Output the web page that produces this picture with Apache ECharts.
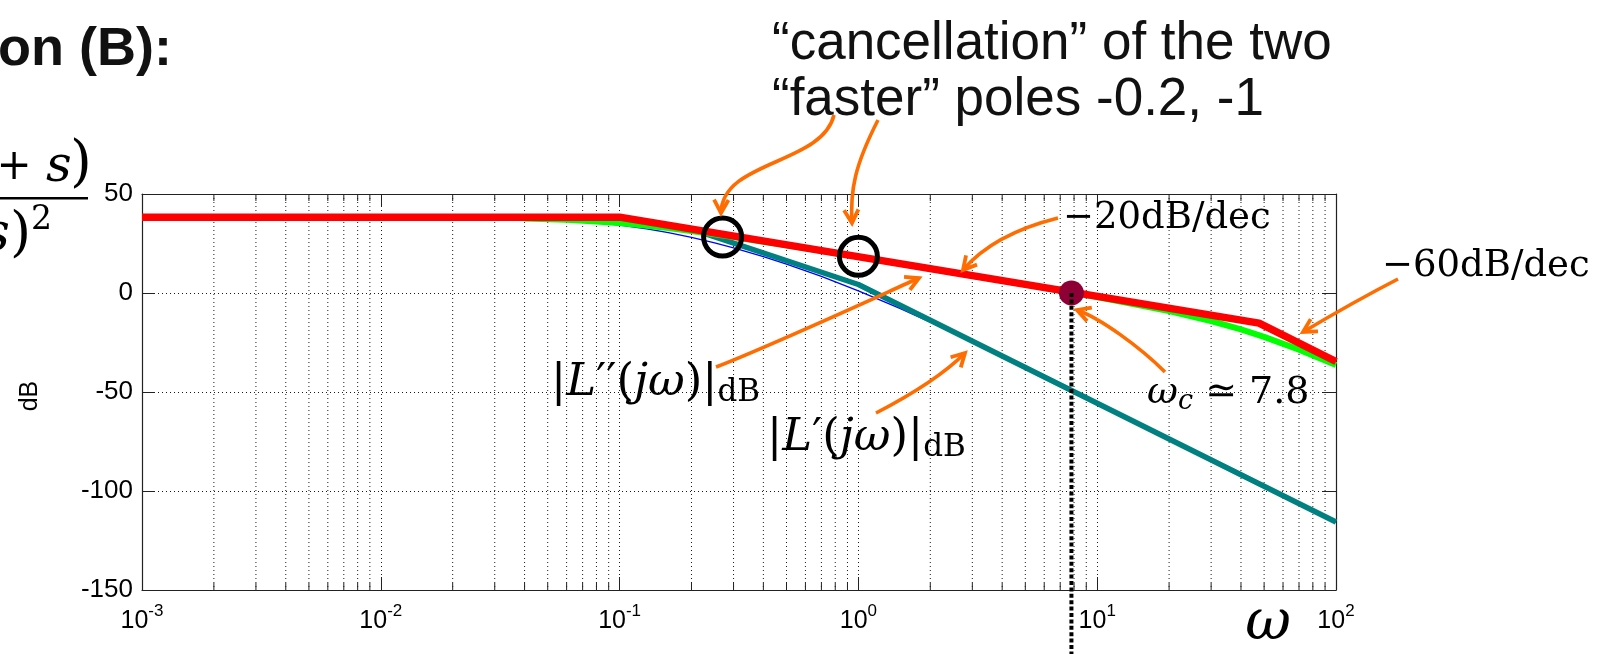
<!DOCTYPE html>
<html>
<head>
<meta charset="utf-8">
<script src="https://cdn.jsdelivr.net/npm/echarts@6/dist/echarts.min.js"></script>
<style>
  html, body { margin: 0; padding: 0; background: #fff; }
  #chart { width: 1616px; height: 654px; }
</style>
</head>
<body>
<div id="chart"></div>
<script>
// Bode magnitude: frequency ω (rad/s) and magnitude in dB

// asymptotic |L''(jω)|dB
const redOmega = [0.001, 0.1, 47.6, 100];
const redDb    = [38.3, 38.3, -15.2, -34.6];

// exact |L''(jω)|dB
const greenOmega = [0.04, 0.06, 0.08, 0.1, 0.13, 0.16, 0.2, 0.3, 0.5, 1, 2, 5, 10, 20, 30, 40, 50, 70, 100];
const greenDb    = [37.66, 36.97, 36.15, 35.29, 34.0, 32.79, 31.31, 28.3, 24.15, 18.26, 12.25, 4.22, -2.08, -9.13, -14.14, -18.38, -22.14, -28.6, -36.37];

// asymptotic |L'(jω)|dB
const tealOmega = [0.001, 0.1, 0.2, 1, 100];
const tealDb    = [38.3, 38.3, 32.3, 4.3, -115.7];

// exact |L'(jω)|dB
const blueOmega = [0.001, 0.01, 0.03, 0.05, 0.07, 0.1, 0.13, 0.16, 0.2, 0.25, 0.3, 0.4, 0.5, 0.7, 1, 1.5, 2, 3, 5, 10, 20, 50, 100];
const blueDb    = [38.3, 38.25, 37.82, 37.06, 36.05, 34.28, 32.4, 30.53, 28.13, 25.35, 22.81, 18.36, 14.58, 8.36, 1.1, -7.94, -14.76, -24.79, -37.8, -55.72, -73.75, -97.62, -115.68];

// circled points where the poles -0.2, -1 get cancelled
const circleOmega = [0.27, 1.0];
const circleDb    = [28.3, 18.5];

// crossover frequency
const crossOmega = [7.8];
const crossDb    = [0];

// axis ticks
const yTicks = [50, 0, -50, -100, -150];
const xTickExponents = ['-3', '-2', '-1', '0', '1', '2'];
const minorMultipliers = [2, 3, 4, 5, 6, 7, 8, 9];

const pair = (xs, ys) => xs.map((x, i) => [x, ys[i]]);

const SANS = '"Liberation Sans", Arial, sans-serif';
const SERIF = '"DejaVu Serif", serif';
const axisColor = '#222';
const dotLine = { color: '#1a1a1a', width: 1, type: [1, 3] };
const orange = '#ff6c00';

const minorValues = [];
for (let e = -3; e < 2; e++) {
  for (const m of minorMultipliers) minorValues.push([m * Math.pow(10, e), 0]);
}

const chart = echarts.init(document.getElementById('chart'), null, { renderer: 'canvas' });

const logAxisBase = {
  type: 'log', logBase: 10, min: 0.001, max: 100, splitNumber: 5,
  axisLine: { show: true, onZero: false, lineStyle: { color: axisColor, width: 1.2 } },
  axisTick: { show: true, inside: true, length: 13, lineStyle: { color: axisColor, width: 1 } },
  minorTick: { show: false }, minorSplitLine: { show: false }
};
const valAxisBase = {
  type: 'value', min: yTicks[yTicks.length - 1], max: yTicks[0], interval: 50,
  axisLine: { show: true, onZero: false, lineStyle: { color: axisColor, width: 1.2 } },
  axisTick: { show: true, inside: true, length: 13, lineStyle: { color: axisColor, width: 1 } }
};

const option = {
  animation: false,
  grid: { left: 142, top: 194, width: 1194, height: 396, containLabel: false },
  xAxis: [
    Object.assign({}, logAxisBase, {
      position: 'bottom',
      splitLine: { show: true, lineStyle: dotLine },
      axisLabel: {
        margin: 13,
        formatter: (v) => {
          const e = Math.round(Math.log10(v));
          return '{b|10}{s|' + xTickExponents[e + 3] + '}';
        },
        rich: {
          b: { fontFamily: SANS, fontSize: 25, color: '#000', lineHeight: 36 },
          s: { fontFamily: SANS, fontSize: 17, color: '#000', lineHeight: 12, verticalAlign: 'top' }
        }
      }
    }),
    Object.assign({}, logAxisBase, {
      position: 'top',
      splitLine: { show: false },
      axisLabel: { show: false }
    })
  ],
  yAxis: [
    Object.assign({}, valAxisBase, {
      position: 'left',
      splitLine: { show: true, lineStyle: dotLine },
      axisLabel: { margin: 9, fontFamily: SANS, fontSize: 26, color: '#000' }
    }),
    Object.assign({}, valAxisBase, {
      position: 'right',
      splitLine: { show: false },
      axisLabel: { show: false }
    })
  ],
  series: [
    {
      // minor decade grid lines and ticks
      type: 'custom', z: 1, silent: true,
      data: minorValues,
      encode: { x: 0, y: 1 },
      renderItem: (params, api) => {
        const v = api.value(0);
        const top = api.coord([v, yTicks[0]]);
        const bot = api.coord([v, yTicks[yTicks.length - 1]]);
        return {
          type: 'group',
          children: [
            { type: 'line', shape: { x1: top[0], y1: top[1], x2: bot[0], y2: bot[1] }, style: { stroke: '#1a1a1a', lineWidth: 1, lineDash: [1, 3] } },
            { type: 'line', shape: { x1: bot[0], y1: bot[1], x2: bot[0], y2: bot[1] - 7 }, style: { stroke: axisColor, lineWidth: 1 } },
            { type: 'line', shape: { x1: top[0], y1: top[1], x2: top[0], y2: top[1] + 7 }, style: { stroke: axisColor, lineWidth: 1 } }
          ]
        };
      }
    },
    { name: "|L'| exact", type: 'line', z: 3, data: pair(blueOmega, blueDb), showSymbol: false, symbol: 'none', lineStyle: { color: '#0000ff', width: 1.3 } },
    { name: "|L'| asymptotic", type: 'line', z: 4, data: pair(tealOmega, tealDb), showSymbol: false, symbol: 'none', lineStyle: { color: '#008080', width: 5.5 } },
    { name: "|L''| exact", type: 'line', z: 5, data: pair(greenOmega, greenDb), showSymbol: false, symbol: 'none', lineStyle: { color: '#00ff00', width: 6 } },
    { name: "|L''| asymptotic", type: 'line', z: 6, data: pair(redOmega, redDb), showSymbol: false, symbol: 'none', lineStyle: { color: '#ff0000', width: 7.5 } },
    {
      name: 'cancellation', type: 'scatter', z: 8, data: pair(circleOmega, circleDb),
      symbol: 'circle', symbolSize: 38,
      itemStyle: { color: 'rgba(0,0,0,0)', borderColor: '#000', borderWidth: 5, opacity: 1 }
    },
    {
      name: 'crossover', type: 'scatter', z: 9, data: pair(crossOmega, crossDb),
      symbol: 'circle', symbolSize: 25, itemStyle: { color: '#8e0035', opacity: 1 }
    }
  ]
};
chart.setOption(option);

// annotation arrows (cubic curves with open arrowheads)
function arrow(p0, p1, p2, p3) {
  const dx = p3[0] - p2[0], dy = p3[1] - p2[1];
  const L = Math.hypot(dx, dy), ux = dx / L, uy = dy / L;
  const hl = 15, ha = 0.5, c = Math.cos(ha), s = Math.sin(ha);
  const b1 = [p3[0] - hl * (ux * c - uy * s), p3[1] - hl * (uy * c + ux * s)];
  const b2 = [p3[0] - hl * (ux * c + uy * s), p3[1] - hl * (uy * c - ux * s)];
  return [
    { type: 'bezierCurve', z: 50, shape: { x1: p0[0], y1: p0[1], cpx1: p1[0], cpy1: p1[1], cpx2: p2[0], cpy2: p2[1], x2: p3[0], y2: p3[1] },
      style: { stroke: orange, lineWidth: 3.6, fill: null } },
    { type: 'polyline', z: 50, shape: { points: [b1, p3, b2] },
      style: { stroke: orange, lineWidth: 3.8, fill: null, lineJoin: 'miter' } }
  ];
}

const mathRich = (size, subSize, lh, subLh) => ({
  r: { fontFamily: SERIF, fontSize: size, lineHeight: lh, color: '#000' },
  i: { fontFamily: SERIF, fontStyle: 'italic', fontSize: size, lineHeight: lh, color: '#000' },
  sub: { fontFamily: SERIF, fontSize: subSize, lineHeight: subLh, verticalAlign: 'bottom', color: '#000' },
  isub: { fontFamily: SERIF, fontStyle: 'italic', fontSize: subSize, lineHeight: subLh, verticalAlign: 'bottom', color: '#000' }
});

const cross = chart.convertToPixel({ xAxisIndex: 0, yAxisIndex: 0 }, [crossOmega[0], crossDb[0]]);

const graphics = [
  // dotted drop line from the crossover point
  { type: 'line', z: 60, shape: { x1: cross[0], y1: cross[1], x2: cross[0], y2: 654 },
    style: { stroke: '#000', lineWidth: 4, lineDash: [4, 2.4] } },

  // headings
  { type: 'text', z: 40, x: 172, y: 50, style: { text: 'on (B):', fontFamily: SANS, fontWeight: 'bold', fontSize: 54, fill: '#111', align: 'right', verticalAlign: 'middle' } },
  { type: 'text', z: 40, x: 772, y: 44, style: { text: '\u201Ccancellation\u201D of the two', fontFamily: SANS, fontSize: 53, fill: '#111', align: 'left', verticalAlign: 'middle' } },
  { type: 'text', z: 40, x: 772, y: 100, style: { text: '\u201Cfaster\u201D poles -0.2, -1', fontFamily: SANS, fontSize: 53, fill: '#111', align: 'left', verticalAlign: 'middle' } },

  // transfer function fragment: numerator "+ s)"
  { type: 'text', z: 40, x: 14, y: 168, style: { text: '+', fontFamily: SERIF, fontSize: 42, fill: '#000', align: 'center', verticalAlign: 'middle' } },
  { type: 'text', z: 40, x: 46, y: 168, style: { text: 's', fontFamily: SERIF, fontStyle: 'italic', fontSize: 50, fill: '#000', align: 'left', verticalAlign: 'middle' } },
  { type: 'text', z: 40, x: 70, y: 165, style: { text: ')', fontFamily: SERIF, fontSize: 56, fill: '#000', align: 'left', verticalAlign: 'middle' } },
  { type: 'rect', z: 40, shape: { x: 0, y: 197, width: 88, height: 2.4 }, style: { fill: '#000' } },
  // denominator "s)²"
  { type: 'text', z: 40, x: 52, y: 204, style: { text: '{i|s}{r|)}{sup|2}', rich: {
      r: { fontFamily: SERIF, fontSize: 54, lineHeight: 64, color: '#000' },
      i: { fontFamily: SERIF, fontStyle: 'italic', fontSize: 54, lineHeight: 64, color: '#000' },
      sup: { fontFamily: SERIF, fontSize: 33, lineHeight: 38, verticalAlign: 'top', color: '#000' } },
      align: 'right', verticalAlign: 'top' } },

  // axis names
  { type: 'text', z: 40, x: 30, y: 396, rotation: Math.PI / 2, style: { text: 'dB', fontFamily: SANS, fontSize: 25, fill: '#000', align: 'center', verticalAlign: 'middle' } },
  { type: 'text', z: 40, x: 1268, y: 624, style: { text: 'ω', fontFamily: SERIF, fontStyle: 'italic', fontSize: 56, fill: '#000', align: 'center', verticalAlign: 'middle' } },

  // slope and curve labels
  { type: 'text', z: 40, x: 1063, y: 218.5, style: { text: '\u221220dB/dec', fontFamily: SERIF, fontSize: 37, fill: '#000', align: 'left', verticalAlign: 'middle' } },
  { type: 'text', z: 40, x: 1382, y: 266, style: { text: '\u221260dB/dec', fontFamily: SERIF, fontSize: 37, fill: '#000', align: 'left', verticalAlign: 'middle' } },
  { type: 'text', z: 40, x: 1147, y: 371, style: { text: '{i|ω}{isub|c}{r| ≃ 7.8}', rich: mathRich(38, 27, 44, 24), align: 'left', verticalAlign: 'top' } },
  { type: 'text', z: 40, x: 551, y: 358, style: { text: '{r||}{i|L}{r|′′(}{i|jω}{r|)|}{sub|dB}', rich: mathRich(45, 31, 50, 27), align: 'left', verticalAlign: 'top' } },
  { type: 'text', z: 40, x: 767, y: 413, style: { text: '{r||}{i|L}{r|′(}{i|jω}{r|)|}{sub|dB}', rich: mathRich(45, 31, 50, 27), align: 'left', verticalAlign: 'top' } }
];

[
  [[834, 115], [822, 165], [722, 160], [721, 213]],
  [[878, 120], [855, 165], [850, 190], [852, 223]],
  [[1058, 218], [1010, 230], [980, 250], [963, 270]],
  [[716, 367], [770, 346], [870, 300], [919, 278]],
  [[876, 413], [905, 398], [940, 378], [965, 353]],
  [[1165, 372], [1140, 347], [1100, 318], [1077, 310]],
  [[1398, 279], [1365, 296], [1335, 313], [1303, 332]]
].forEach(a => graphics.push(...arrow(a[0], a[1], a[2], a[3])));

chart.setOption({ graphic: { elements: graphics } });
</script>
</body>
</html>
